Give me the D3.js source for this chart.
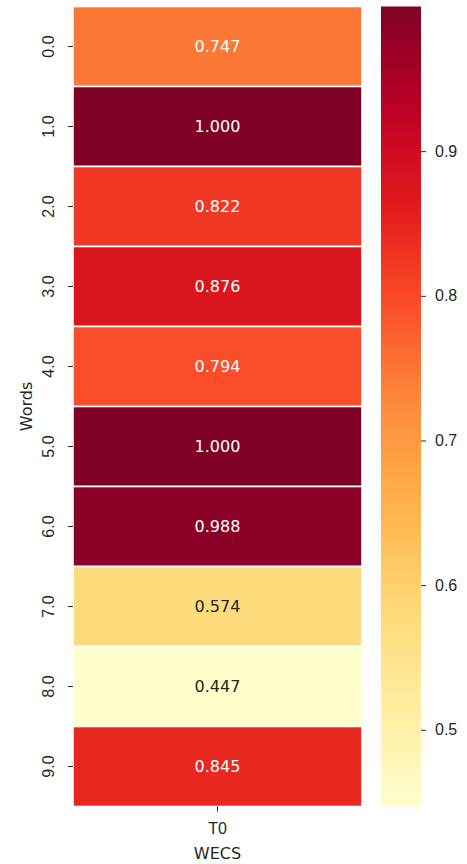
<!DOCTYPE html>
<html>
<head>
<meta charset="utf-8">
<script src="https://cdn.jsdelivr.net/npm/d3@7"></script>
<style>
  html, body { margin: 0; padding: 0; background: #fff; }
  svg { display: block; font-family: "DejaVu Sans", sans-serif; }
</style>
</head>
<body>
<svg id="chart" width="467" height="864"></svg>
<script>
// Heatmap data: one column (T0), ten word rows
const words = ["0.0", "1.0", "2.0", "3.0", "4.0", "5.0", "6.0", "7.0", "8.0", "9.0"];
const columns = ["T0"];
const scores = [0.747, 1.000, 0.822, 0.876, 0.794, 1.000, 0.988, 0.574, 0.447, 0.845];
const colorbarTicks = [0.5, 0.6, 0.7, 0.8, 0.9];
const xTitle = "WECS";
const yTitle = "Words";

const vmin = d3.min(scores), vmax = d3.max(scores);
const FS = 16;

// YlOrRd ramp (ColorBrewer 9-class), linearly interpolated
const ramp = ["#ffffcc", "#ffeda0", "#fed976", "#feb24c", "#fd8d3c", "#fc4e2a", "#e31a1c", "#bd0026", "#800026"];
const color = d3.scaleLinear()
  .domain(ramp.map((_, i) => vmin + (vmax - vmin) * i / (ramp.length - 1)))
  .range(ramp)
  .interpolate(d3.interpolateRgb);

const svg = d3.select("#chart");
const plot = { left: 73, right: 362, top: 6.5, bottom: 806.5 };
const cbar = { left: 381, right: 421 };

const x = d3.scaleBand().domain(columns).range([plot.left, plot.right]);
const y = d3.scaleBand().domain(words).range([plot.top, plot.bottom]);

// Cells
const cells = [];
words.forEach((w, i) => columns.forEach(c => cells.push({ w, c, v: scores[i] })));

svg.append("g").selectAll("rect").data(cells).join("rect")
  .attr("x", d => x(d.c))
  .attr("y", d => y(d.w))
  .attr("width", x.bandwidth())
  .attr("height", y.bandwidth())
  .attr("fill", d => color(d.v))
  .attr("stroke", "#fff")
  .attr("stroke-width", 1.6);

// Annotations: light text on dark cells
function lum(c) {
  const rgb = d3.rgb(c);
  const f = v => { v /= 255; return v <= 0.03928 ? v / 12.92 : Math.pow((v + 0.055) / 1.055, 2.4); };
  return 0.2126 * f(rgb.r) + 0.7152 * f(rgb.g) + 0.0722 * f(rgb.b);
}
svg.append("g").selectAll("text").data(cells).join("text")
  .attr("x", d => x(d.c) + x.bandwidth() / 2)
  .attr("y", d => y(d.w) + y.bandwidth() / 2)
  .attr("text-anchor", "middle")
  .attr("dominant-baseline", "central")
  .attr("font-size", FS)
  .attr("fill", d => lum(color(d.v)) > 0.408 ? "#262626" : "#ffffff")
  .text(d => d.v.toFixed(3));

// Y axis
const yAxis = svg.append("g")
  .attr("transform", `translate(${plot.left},0)`)
  .call(d3.axisLeft(y).tickSize(5).tickPadding(4));
yAxis.select(".domain").remove();
yAxis.selectAll(".tick line").attr("stroke", "#262626");
yAxis.selectAll(".tick text")
  .attr("font-size", FS)
  .attr("fill", "#262626")
  .attr("text-anchor", "middle")
  .attr("dominant-baseline", "central")
  .attr("x", 0).attr("dy", null)
  .attr("transform", "translate(-25,0) rotate(-90)");

// X axis
const xAxis = svg.append("g")
  .attr("transform", `translate(0,${plot.bottom})`)
  .call(d3.axisBottom(x).tickSize(5).tickPadding(5));
xAxis.select(".domain").remove();
xAxis.selectAll(".tick line").attr("stroke", "#262626");
xAxis.selectAll(".tick text")
  .attr("font-size", FS).attr("fill", "#262626")
  .attr("y", 27.5).attr("dy", null);

svg.append("text")
  .attr("x", (plot.left + plot.right) / 2).attr("y", 859)
  .attr("text-anchor", "middle").attr("font-size", FS).attr("fill", "#262626")
  .text(xTitle);

svg.append("text")
  .attr("transform", `translate(32,${(plot.top + plot.bottom) / 2}) rotate(-90)`)
  .attr("text-anchor", "middle").attr("font-size", FS).attr("fill", "#262626")
  .text(yTitle);

// Colorbar
const cy = d3.scaleLinear().domain([vmin, vmax]).range([plot.bottom, plot.top]);
const defs = svg.append("defs");
const grad = defs.append("linearGradient").attr("id", "cbar")
  .attr("x1", 0).attr("y1", 1).attr("x2", 0).attr("y2", 0);
d3.range(0, 1.0001, 0.02).forEach(t => {
  grad.append("stop").attr("offset", t).attr("stop-color", color(vmin + t * (vmax - vmin)));
});
svg.append("rect")
  .attr("x", cbar.left).attr("y", plot.top)
  .attr("width", cbar.right - cbar.left).attr("height", plot.bottom - plot.top)
  .attr("fill", "url(#cbar)");

const cAxis = svg.append("g")
  .attr("transform", `translate(${cbar.right},0)`)
  .call(d3.axisRight(cy).tickValues(colorbarTicks).tickFormat(d3.format(".1f")).tickSize(5).tickPadding(9));
cAxis.select(".domain").remove();
cAxis.selectAll(".tick line").attr("stroke", "#262626");
cAxis.selectAll(".tick text").attr("font-size", FS).attr("fill", "#262626");
</script>
</body>
</html>
